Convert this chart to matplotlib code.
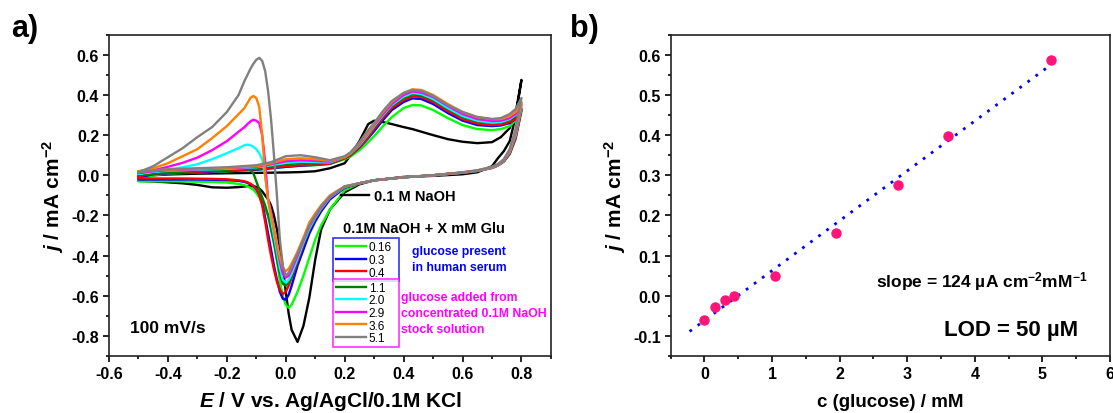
import matplotlib
matplotlib.use("Agg")
import matplotlib.pyplot as plt
import numpy as np
from matplotlib.ticker import MultipleLocator, FormatStrFormatter

plt.rcParams["font.family"] = ["Liberation Sans", "DejaVu Sans"]
plt.rcParams["font.weight"] = "bold"
plt.rcParams["axes.labelweight"] = "bold"
plt.rcParams["mathtext.fontset"] = "custom"
plt.rcParams["mathtext.rm"] = "Liberation Sans:bold"
plt.rcParams["mathtext.it"] = "Liberation Sans:italic:bold"
plt.rcParams["mathtext.bf"] = "Liberation Sans:bold"

# ---- panel a: cyclic voltammograms (potential grids shared by all curves)
E_fwd = [-0.50, -0.45, -0.40, -0.30, -0.20, -0.10, -0.05, 0.00, 0.05, 0.10,
         0.15, 0.20, 0.22, 0.25, 0.28, 0.30, 0.33, 0.36, 0.40, 0.43,
         0.46, 0.50, 0.55, 0.60, 0.65, 0.70, 0.73, 0.76, 0.78, 0.80]
E_rev = [0.80, 0.78, 0.76, 0.74, 0.72, 0.70, 0.65, 0.60, 0.50, 0.40,
         0.30, 0.25, 0.20, 0.15, 0.12, 0.10, 0.08, 0.06, 0.04, 0.02,
         0.01, 0.00, -0.01, -0.02, -0.03, -0.04, -0.05, -0.06, -0.07, -0.08,
         -0.09, -0.10, -0.11, -0.12, -0.13, -0.14, -0.16, -0.20, -0.25, -0.30,
         -0.35, -0.40, -0.45, -0.50]

j_fwd_blank = [-0.010, 0.000, 0.004, 0.008, 0.010, 0.012, 0.013, 0.014, 0.016, 0.020,
               0.035, 0.060, 0.100, 0.170, 0.255, 0.272, 0.265, 0.255, 0.240, 0.230,
               0.217, 0.200, 0.180, 0.167, 0.160, 0.165, 0.190, 0.235, 0.310, 0.475]
j_rev_blank = [0.475, 0.29, 0.17, 0.12, 0.085, 0.045, 0.015, 0.005, -0.003, -0.008,
               -0.025, -0.045, -0.085, -0.17, -0.27, -0.42, -0.61, -0.75, -0.83, -0.77,
               -0.69, -0.58, -0.46, -0.36, -0.27, -0.20, -0.15, -0.12, -0.10, -0.08,
               -0.066, -0.058, -0.054, -0.053, -0.054, -0.056, -0.059, -0.062, -0.060, -0.048,
               -0.040, -0.035, -0.031, -0.028]

j_fwd_016 = [-0.020, 0.000, 0.008, 0.014, 0.020, 0.027, 0.034, 0.042, 0.047, 0.050,
             0.056, 0.080, 0.093, 0.125, 0.165, 0.195, 0.245, 0.290, 0.335, 0.350,
             0.348, 0.325, 0.285, 0.250, 0.230, 0.225, 0.230, 0.245, 0.275, 0.365]
j_rev_016 = [0.365, 0.20, 0.11, 0.07, 0.05, 0.038, 0.022, 0.013, 0.0, -0.01,
             -0.025, -0.04, -0.075, -0.17, -0.25, -0.32, -0.41, -0.50, -0.58, -0.645,
             -0.66, -0.645, -0.60, -0.53, -0.42, -0.31, -0.25, -0.20, -0.17, -0.14,
             -0.11, -0.088, -0.072, -0.062, -0.055, -0.050, -0.043, -0.036, -0.033, -0.032,
             -0.031, -0.030, -0.030, -0.030]

j_fwd_03 = [-0.010, 0.005, 0.010, 0.015, 0.022, 0.028, 0.035, 0.042, 0.048, 0.052,
            0.058, 0.085, 0.100, 0.138, 0.185, 0.220, 0.275, 0.325, 0.365, 0.383,
            0.380, 0.355, 0.310, 0.272, 0.250, 0.245, 0.248, 0.260, 0.280, 0.330]
j_rev_03 = [0.330, 0.19, 0.11, 0.07, 0.05, 0.038, 0.022, 0.013, 0.0, -0.01,
            -0.025, -0.04, -0.062, -0.12, -0.18, -0.23, -0.29, -0.37, -0.45, -0.55,
            -0.595, -0.62, -0.615, -0.58, -0.52, -0.45, -0.37, -0.29, -0.21, -0.14,
            -0.095, -0.070, -0.055, -0.045, -0.038, -0.033, -0.028, -0.024, -0.022, -0.021,
            -0.021, -0.021, -0.021, -0.021]

j_fwd_04 = [-0.005, 0.008, 0.012, 0.018, 0.024, 0.030, 0.038, 0.045, 0.050, 0.052,
            0.058, 0.085, 0.100, 0.140, 0.190, 0.230, 0.285, 0.335, 0.375, 0.393,
            0.390, 0.365, 0.320, 0.280, 0.258, 0.250, 0.252, 0.265, 0.280, 0.320]
j_rev_04 = [0.320, 0.18, 0.105, 0.068, 0.048, 0.036, 0.021, 0.012, 0.0, -0.01,
            -0.025, -0.04, -0.06, -0.112, -0.17, -0.215, -0.27, -0.345, -0.43, -0.51,
            -0.55, -0.58, -0.592, -0.57, -0.53, -0.47, -0.40, -0.32, -0.23, -0.15,
            -0.095, -0.068, -0.052, -0.042, -0.035, -0.030, -0.025, -0.020, -0.018, -0.017,
            -0.016, -0.016, -0.016, -0.016]

j_fwd_11 = [0.003, 0.012, 0.018, 0.025, 0.030, 0.037, 0.045, 0.055, 0.060, 0.060,
            0.062, 0.088, 0.105, 0.148, 0.200, 0.240, 0.295, 0.345, 0.385, 0.403,
            0.398, 0.375, 0.330, 0.290, 0.268, 0.260, 0.262, 0.275, 0.295, 0.330]
j_rev_11 = [0.330, 0.19, 0.11, 0.07, 0.05, 0.038, 0.022, 0.013, 0.0, -0.01,
            -0.025, -0.04, -0.058, -0.112, -0.17, -0.215, -0.27, -0.34, -0.42, -0.50,
            -0.535, -0.55, -0.54, -0.49, -0.42, -0.34, -0.27, -0.20, -0.15, -0.11,
            -0.07, -0.03, 0.01, 0.025, 0.030, 0.032, 0.033, 0.030, 0.027, 0.022,
            0.018, 0.013, 0.008, 0.003]

j_fwd_20 = [0.008, 0.018, 0.022, 0.028, 0.032, 0.040, 0.050, 0.062, 0.068, 0.066,
            0.064, 0.090, 0.108, 0.150, 0.205, 0.245, 0.300, 0.350, 0.392, 0.410,
            0.405, 0.380, 0.335, 0.295, 0.272, 0.262, 0.265, 0.280, 0.300, 0.340]
j_rev_20 = [0.340, 0.20, 0.115, 0.072, 0.05, 0.038, 0.022, 0.013, 0.0, -0.01,
            -0.025, -0.04, -0.058, -0.11, -0.165, -0.21, -0.265, -0.335, -0.415, -0.49,
            -0.52, -0.535, -0.52, -0.46, -0.38, -0.30, -0.22, -0.12, 0.0, 0.08,
            0.11, 0.13, 0.142, 0.150, 0.153, 0.150, 0.135, 0.110, 0.080, 0.055,
            0.040, 0.028, 0.017, 0.008]

j_fwd_29 = [0.012, 0.020, 0.025, 0.030, 0.035, 0.042, 0.055, 0.070, 0.075, 0.072,
            0.068, 0.090, 0.110, 0.155, 0.210, 0.250, 0.305, 0.355, 0.400, 0.418,
            0.412, 0.390, 0.345, 0.305, 0.280, 0.270, 0.272, 0.285, 0.305, 0.350]
j_rev_29 = [0.350, 0.21, 0.12, 0.075, 0.052, 0.04, 0.023, 0.014, 0.0, -0.01,
            -0.025, -0.04, -0.057, -0.108, -0.16, -0.205, -0.255, -0.325, -0.40, -0.47,
            -0.50, -0.51, -0.49, -0.43, -0.35, -0.27, -0.18, -0.12, 0.07, 0.20,
            0.26, 0.272, 0.277, 0.268, 0.255, 0.240, 0.217, 0.170, 0.125, 0.088,
            0.062, 0.042, 0.025, 0.012]

j_fwd_36 = [0.020, 0.025, 0.028, 0.032, 0.037, 0.045, 0.060, 0.080, 0.085, 0.080,
            0.072, 0.090, 0.110, 0.160, 0.215, 0.255, 0.315, 0.365, 0.410, 0.428,
            0.425, 0.400, 0.355, 0.315, 0.290, 0.280, 0.280, 0.295, 0.315, 0.360]
j_rev_36 = [0.360, 0.22, 0.125, 0.078, 0.054, 0.041, 0.024, 0.014, 0.0, -0.01,
            -0.025, -0.04, -0.055, -0.10, -0.15, -0.19, -0.235, -0.31, -0.38, -0.44,
            -0.465, -0.478, -0.46, -0.41, -0.34, -0.27, -0.20, -0.12, 0.0, 0.20,
            0.34, 0.385, 0.395, 0.385, 0.360, 0.335, 0.305, 0.245, 0.185, 0.130,
            0.095, 0.060, 0.035, 0.020]

j_fwd_51 = [0.015, 0.025, 0.030, 0.035, 0.040, 0.050, 0.065, 0.095, 0.100, 0.090,
            0.075, 0.095, 0.115, 0.165, 0.225, 0.260, 0.320, 0.370, 0.410, 0.425,
            0.420, 0.395, 0.350, 0.315, 0.290, 0.280, 0.285, 0.305, 0.330, 0.385]
j_rev_51 = [0.385, 0.23, 0.13, 0.08, 0.056, 0.042, 0.025, 0.015, 0.0, -0.01,
            -0.025, -0.04, -0.055, -0.105, -0.155, -0.20, -0.25, -0.32, -0.39, -0.455,
            -0.485, -0.50, -0.45, -0.32, -0.10, 0.10, 0.28, 0.42, 0.52, 0.57,
            0.585, 0.575, 0.555, 0.530, 0.500, 0.470, 0.400, 0.315, 0.240, 0.190,
            0.135, 0.090, 0.045, 0.015]

cv_labels = ["0.1 M NaOH", "0.16", "0.3", "0.4", "1.1", "2.0", "2.9", "3.6", "5.1"]
cv_colors = ["black", "#00FF00", "#0000FF", "#FF0000", "#008000",
             "#00FFFF", "#FF00FF", "#FF8000", "#808080"]
cv_fwd = [j_fwd_blank, j_fwd_016, j_fwd_03, j_fwd_04, j_fwd_11,
          j_fwd_20, j_fwd_29, j_fwd_36, j_fwd_51]
cv_rev = [j_rev_blank, j_rev_016, j_rev_03, j_rev_04, j_rev_11,
          j_rev_20, j_rev_29, j_rev_36, j_rev_51]
xticks_a = [-0.6, -0.4, -0.2, 0.0, 0.2, 0.4, 0.6, 0.8]
yticks_a = [-0.8, -0.6, -0.4, -0.2, 0.0, 0.2, 0.4, 0.6]

# ---- panel b: calibration
c_glucose = [0.0, 0.15, 0.30, 0.44, 1.05, 1.95, 2.86, 3.61, 5.12]
j_peak = [-0.060, -0.029, -0.010, 0.000, 0.050, 0.156, 0.277, 0.397, 0.588]
fit_range = [-0.22, 5.18]
xticks_b = [0, 1, 2, 3, 4, 5, 6]
yticks_b = [-0.1, 0.0, 0.1, 0.2, 0.3, 0.4, 0.5, 0.6]

tick_size = 11.5
spine_w = 1.2

fig = plt.figure(figsize=(11.13, 4.14), dpi=100)
ax1 = fig.add_axes([0.0979, 0.1377, 0.3971, 0.776])
ax2 = fig.add_axes([0.6026, 0.1377, 0.3947, 0.776])

lines = []
for lab, col, jf, jr in zip(cv_labels, cv_colors, cv_fwd, cv_rev):
    E = E_fwd + E_rev + [E_fwd[0]]
    j = jf + jr + [jf[0]]
    ln, = ax1.plot(E, j, color=col, lw=1.7, label=lab)
    lines.append(ln)

ax1.set_xlim(-0.6, 0.9)
ax1.set_ylim(-0.9, 0.7)
ax1.set_xticks(xticks_a)
ax1.set_yticks(yticks_a)
ax1.xaxis.set_minor_locator(MultipleLocator(0.1))
ax1.yaxis.set_minor_locator(MultipleLocator(0.1))
ax1.xaxis.set_major_formatter(FormatStrFormatter("%.1f"))
ax1.yaxis.set_major_formatter(FormatStrFormatter("%.1f"))
ax1.set_xlabel("$E$ / V vs. Ag/AgCl/0.1M KCl", fontsize=15, labelpad=6)
ax1.set_ylabel("$j$ / mA cm$^{-2}$", fontsize=15, labelpad=4)

# legends
leg0 = ax1.legend(handles=[lines[0]], loc="center left", bbox_to_anchor=(0.526, 0.499),
                  frameon=False, borderpad=0, borderaxespad=0, handlelength=1.9,
                  handletextpad=0.3, prop={"size": 10.5, "weight": "bold"})
ax1.add_artist(leg0)
small = {"family": ["Liberation Sans Narrow", "Liberation Sans"], "size": 8.5, "weight": "normal"}
leg1 = ax1.legend(handles=lines[1:4], loc="upper left", mode="expand",
                  bbox_to_anchor=(0.506, 0.25, 0.150, 0.116), borderaxespad=0,
                  borderpad=0.25, labelspacing=0.05, handlelength=2.6, handletextpad=0.2,
                  fancybox=False, prop=small)
leg1.get_frame().set_edgecolor("#0000FF")
leg1.get_frame().set_linewidth(1.2)
ax1.add_artist(leg1)
leg2 = ax1.legend(handles=lines[4:], loc="upper left", mode="expand",
                  bbox_to_anchor=(0.506, 0.02, 0.150, 0.22), borderaxespad=0,
                  borderpad=0.25, labelspacing=0.05, handlelength=2.6, handletextpad=0.2,
                  fancybox=False, prop=small)
leg2.get_frame().set_edgecolor("#FF00FF")
leg2.get_frame().set_linewidth(1.2)

ax1.text(0.529, 0.397, "0.1M NaOH + X mM Glu", transform=ax1.transAxes,
         fontsize=10.5, va="center", ha="left")
ax1.text(0.685, 0.302, "glucose present\nin human serum", transform=ax1.transAxes,
         fontsize=8.8, color="#0000FF", va="center", ha="left", linespacing=1.45)
ax1.text(0.660, 0.134, "glucose added from\nconcentrated 0.1M NaOH\nstock solution",
         transform=ax1.transAxes, fontsize=8.8, color="#FF00FF", va="center",
         ha="left", linespacing=1.45)
ax1.text(0.0475, 0.09, "100 mV/s", transform=ax1.transAxes, fontsize=12.5,
         va="center", ha="left")

# panel b
slope, icpt = np.polyfit(c_glucose, j_peak, 1)
ax2.plot(fit_range, [slope * c + icpt for c in fit_range], color="#0000FF", lw=2.0,
         linestyle=(0, (1, 2.6)), dash_capstyle="butt")
ax2.plot(c_glucose, j_peak, "o", color="#FF1478", markersize=6.5, zorder=3)
ax2.set_xlim(-0.5, 6)
ax2.set_ylim(-0.15, 0.65)
ax2.set_xticks(xticks_b)
ax2.set_yticks(yticks_b)
ax2.xaxis.set_minor_locator(MultipleLocator(0.5))
ax2.yaxis.set_minor_locator(MultipleLocator(0.05))
ax2.yaxis.set_major_formatter(FormatStrFormatter("%.1f"))
ax2.set_xlabel("c (glucose) / mM", fontsize=13.5, labelpad=9)
ax2.set_ylabel("$j$ / mA cm$^{-2}$", fontsize=15, labelpad=4)
ax2.text(0.467, 0.234, "slope = 124 \u00b5A cm$^{-2}$mM$^{-1}$", transform=ax2.transAxes,
         fontsize=12.5, va="center", ha="left")
ax2.text(0.622, 0.084, "LOD = 50 \u00b5M", transform=ax2.transAxes, fontsize=16,
         va="center", ha="left")

for ax in (ax1, ax2):
    for sp in ax.spines.values():
        sp.set_linewidth(spine_w)
        sp.set_color("#222222")
    ax.tick_params(which="major", direction="out", length=4, width=spine_w,
                   labelsize=tick_size, pad=3)
    ax.tick_params(which="minor", direction="out", length=2.5, width=spine_w)
    for t in ax.get_xticklabels() + ax.get_yticklabels():
        t.set_fontweight("bold")

fig.text(0.010, 0.93, "a)", fontsize=22, va="center", ha="left")
fig.text(0.512, 0.93, "b)", fontsize=22, va="center", ha="left")

fig.savefig("out.png", dpi=100)
